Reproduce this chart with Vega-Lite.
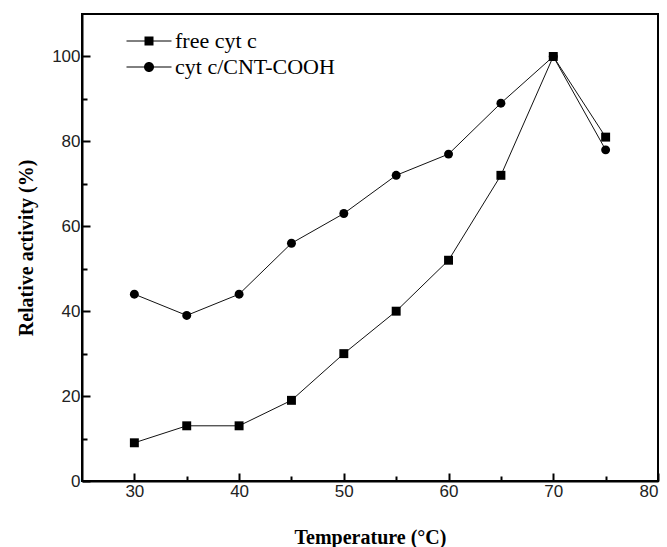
{
  "$schema": "https://vega.github.io/schema/vega-lite/v6.json",
  "width": 576,
  "height": 467,
  "autosize": "none",
  "padding": {"left": 82, "top": 14, "right": 9, "bottom": 66},
  "background": "white",
  "config": {
    "view": {"stroke": "black", "strokeWidth": 2, "fill": null},
    "axis": {
      "grid": false,
      "zindex": 1,
      "domainColor": "black",
      "domainWidth": 2,
      "tickColor": "black",
      "tickWidth": 2,
      "labelFont": "Liberation Sans",
      "labelFontSize": 17,
      "labelColor": "#222",
      "titleFont": "Liberation Serif",
      "titleFontSize": 20,
      "titleFontWeight": "bold",
      "titleColor": "black"
    }
  },
  "data": {
    "values": [
      {"t": 30, "a": 9, "series": "free cyt c"},
      {"t": 35, "a": 13, "series": "free cyt c"},
      {"t": 40, "a": 13, "series": "free cyt c"},
      {"t": 45, "a": 19, "series": "free cyt c"},
      {"t": 50, "a": 30, "series": "free cyt c"},
      {"t": 55, "a": 40, "series": "free cyt c"},
      {"t": 60, "a": 52, "series": "free cyt c"},
      {"t": 65, "a": 72, "series": "free cyt c"},
      {"t": 70, "a": 100, "series": "free cyt c"},
      {"t": 75, "a": 81, "series": "free cyt c"},
      {"t": 30, "a": 44, "series": "cyt c/CNT-COOH"},
      {"t": 35, "a": 39, "series": "cyt c/CNT-COOH"},
      {"t": 40, "a": 44, "series": "cyt c/CNT-COOH"},
      {"t": 45, "a": 56, "series": "cyt c/CNT-COOH"},
      {"t": 50, "a": 63, "series": "cyt c/CNT-COOH"},
      {"t": 55, "a": 72, "series": "cyt c/CNT-COOH"},
      {"t": 60, "a": 77, "series": "cyt c/CNT-COOH"},
      {"t": 65, "a": 89, "series": "cyt c/CNT-COOH"},
      {"t": 70, "a": 100, "series": "cyt c/CNT-COOH"},
      {"t": 75, "a": 78, "series": "cyt c/CNT-COOH"}
    ]
  },
  "layer": [
    {
      "mark": {"type": "line", "color": "#111", "strokeWidth": 1},
      "encoding": {
        "x": {"field": "t", "type": "quantitative", "scale": {"domain": [25, 80], "nice": false},
              "axis": {"orient": "bottom", "values": [30, 40, 50, 60, 70, 80], "tickSize": -8, "labelPadding": 10, "title": "Temperature (°C)", "titlePadding": 28}},
        "y": {"field": "a", "type": "quantitative", "scale": {"domain": [0, 110], "nice": false},
              "axis": {"orient": "left", "values": [0, 20, 40, 60, 80, 100], "tickSize": -8, "labelPadding": 10, "title": "Relative activity (%)", "titlePadding": 15}},
        "detail": {"field": "series"}
      }
    },
    {
      "mark": {"type": "point", "filled": true, "color": "black", "opacity": 1, "size": 80},
      "encoding": {
        "x": {"field": "t", "type": "quantitative", "axis": null},
        "y": {"field": "a", "type": "quantitative", "axis": null},
        "shape": {"field": "series", "type": "nominal",
                  "scale": {"domain": ["free cyt c", "cyt c/CNT-COOH"], "range": ["square", "circle"]},
                  "legend": null}
      }
    },
    {
      "mark": {"type": "point", "filled": true, "color": "black", "opacity": 0},
      "encoding": {
        "x": {"field": "t", "type": "quantitative",
              "axis": {"orient": "bottom", "values": [35, 45, 55, 65, 75], "tickSize": -5, "labels": false, "domain": false, "title": null}},
        "y": {"field": "a", "type": "quantitative",
              "axis": {"orient": "left", "values": [10, 30, 50, 70, 90], "tickSize": -5, "labels": false, "domain": false, "title": null}},
        "shape": {"field": "series", "type": "nominal",
                  "scale": {"domain": ["free cyt c", "cyt c/CNT-COOH"],
                            "range": ["M-0.45,-0.45H0.45V0.45H-0.45Z", "M-0.5,0A0.5,0.5,0,1,0,0.5,0A0.5,0.5,0,1,0,-0.5,0Z"]},
                  "legend": {"orient": "none", "legendX": 56, "legendY": 16, "title": null,
                             "symbolSize": 400, "symbolOpacity": 1, "symbolFillColor": "black",
                             "rowPadding": 4, "labelOffset": 15, "labelFont": "Liberation Serif", "labelFontSize": 22, "labelColor": "black", "padding": 0}}
      }
    },
    {
      "mark": {"type": "point", "filled": false, "color": "black", "opacity": 0},
      "encoding": {
        "x": {"field": "t", "type": "quantitative", "axis": null},
        "y": {"field": "a", "type": "quantitative", "axis": null},
        "shape": {"field": "series", "type": "nominal",
                  "scale": {"domain": ["free cyt c", "cyt c/CNT-COOH"],
                            "range": ["M-2.25,0H2.25", "M-2.25,0.001H2.25"]},
                  "legend": {"orient": "none", "legendX": 56, "legendY": 16, "title": null,
                             "symbolSize": 400, "symbolOpacity": 1, "symbolStrokeColor": "black", "symbolStrokeWidth": 1,
                             "rowPadding": 4, "labelOffset": 15, "labelFont": "Liberation Serif", "labelFontSize": 22, "labelColor": "black", "labelOpacity": 0, "padding": 0}}
      }
    }
  ],
  "resolve": {"scale": {"shape": "independent"}, "axis": {"x": "independent", "y": "independent"}}
}
